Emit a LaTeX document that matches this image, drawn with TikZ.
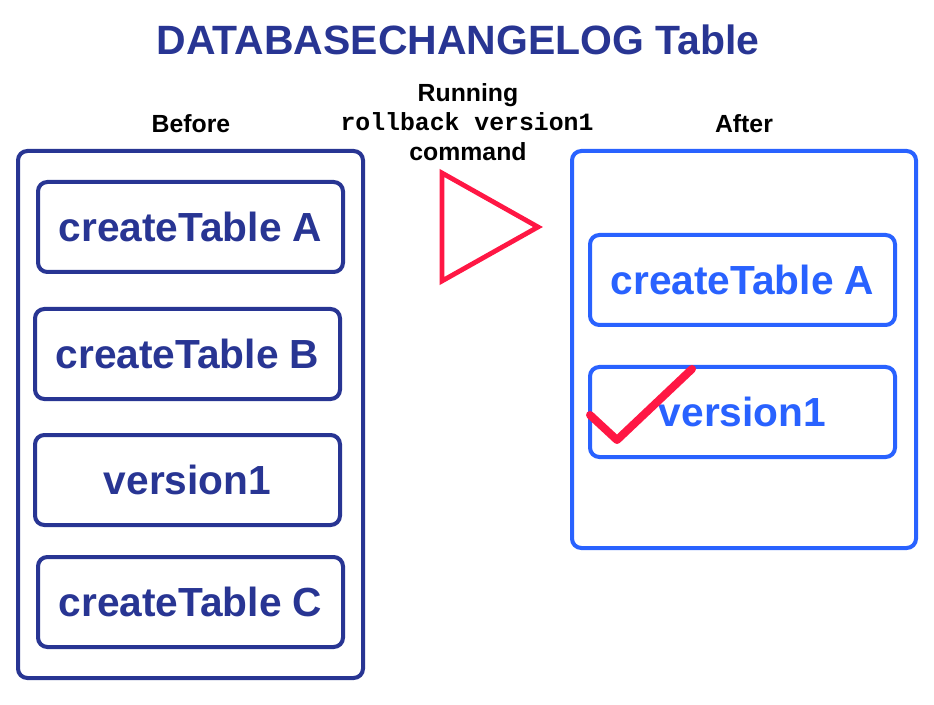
\documentclass[tikz,border=0pt]{standalone}
\usepackage{fontspec}
\setmainfont{Liberation Sans}
\setmonofont{Liberation Mono}
\usepackage{xcolor}
\usetikzlibrary{positioning}

\definecolor{navy}{RGB}{40,53,147}
\definecolor{brightblue}{RGB}{41,98,255}
\definecolor{alertred}{RGB}{255,23,68}

\begin{document}
\begin{tikzpicture}[
    x=0.75pt, y=-0.75pt,
    font=\bfseries,
    frame/.style={draw=#1, line width=3pt, rounded corners=7pt, minimum width=258pt, inner sep=0pt},
    entry/.style={draw=#1, text=#1, line width=3pt, rounded corners=7pt, minimum width=228.75pt, minimum height=67.5pt, inner sep=0pt, font=\fontsize{30.5}{34}\selectfont\bfseries},
    head/.style={font=\fontsize{18.6}{22}\selectfont\bfseries, inner sep=0pt, anchor=base}
  ]
  \useasboundingbox (0,0) rectangle (934,705);
  % title
  \node[text=navy, font=\fontsize{30.7}{34}\selectfont\bfseries] (title) at (458,40) {DATABASECHANGELOG Table};
  % before
  \node[head] (before) at (191,133) {Before};
  \node[frame=navy, minimum width=258.75pt, minimum height=395.25pt] (oldlog) at (190.5,414.5) {};
  \node[entry=navy] (oldA) at (190.5,227) {createTable A};
  \node[entry=navy] (oldB) at (187.5,354) {createTable B};
  \node[entry=navy] (oldver) at (187.5,480) {version1};
  \node[entry=navy] (oldC) at (190.5,602) {createTable C};
  % command
  \node[head] (running) at (468,102) {Running};
  \node[head, font=\fontsize{18.6}{22}\selectfont\ttfamily\bfseries] (cmd) at (467,131) {rollback version1};
  \node[head] (command) at (468,161) {command};
  \draw[alertred, line width=3.6pt, line join=miter] (442,173) -- (538,227) -- (442,281) -- cycle;
  % after
  \node[head] (after) at (744,133) {After};
  \node[frame=brightblue, minimum width=258pt, minimum height=297.75pt] (newlog) at (744,349.5) {};
  \node[entry=brightblue] (newA) at (742.5,280) {createTable A};
  \node[entry=brightblue] (newver) at (742.5,412) {version1};
  \draw[alertred, line width=6pt, line cap=round, line join=round] (590,415) -- (617,440) -- (692,369);
\end{tikzpicture}
\end{document}
